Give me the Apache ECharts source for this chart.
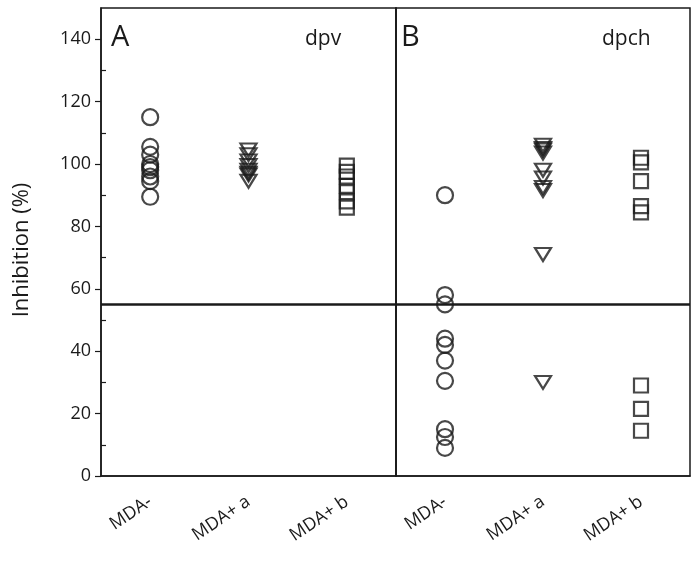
<!DOCTYPE html>
<html>
<head>
<meta charset="utf-8">
<script src="https://cdn.jsdelivr.net/npm/echarts@6/dist/echarts.min.js"></script>
<style>html,body{margin:0;padding:0;background:#fff}#c{width:697px;height:567px}</style>
</head>
<body>
<div id="c"></div>
<script>
var categories = ['MDA-', 'MDA+ a', 'MDA+ b'];
var yTicks = [0, 20, 40, 60, 80, 100, 120, 140];
var yMinorTicks = [10, 30, 50, 70, 90, 110, 130];
var thresholdValue = 55;

// Panel A (dpv)
var dpvMDAminus = [115, 105.5, 103, 100, 99, 98, 96, 94.5, 89.5];
var dpvMDAplusA = [104.5, 103, 101, 99.5, 98, 97, 96.5, 94.5];
var dpvMDAplusB = [99.5, 97.5, 96, 93, 91, 88, 86];

// Panel B (dpch)
var dpchMDAminus = [90, 58, 55, 44, 42, 37, 30.5, 15, 12.5, 9];
var dpchMDAplusA = [106, 105, 104.5, 103.5, 98, 95.5, 92.5, 91.5, 71, 30];
var dpchMDAplusB = [102, 100.5, 94.5, 86.5, 84.5, 29, 21.5, 14.5];

var FONT = '"Open Sans", "Liberation Sans", sans-serif';
var INK = '#1a1a1a';

function pts(cat, vals) { return vals.map(function (v) { return [cat, v]; }); }

function markerSeries(grid, cat, vals, shape) {
  var s = {
    type: 'scatter',
    xAxisIndex: grid,
    yAxisIndex: grid === 0 ? 0 : 2,
    data: pts(cat, vals),
    symbol: shape,
    itemStyle: { color: 'rgba(0,0,0,0)', borderColor: INK, borderWidth: 2.2 },
    emphasis: { disabled: true },
    silent: true,
    z: 3
  };
  if (shape === 'circle') s.symbolSize = 16;
  if (shape === 'triangle') { s.symbolSize = [16, 13]; s.symbolRotate = 180; }
  if (shape === 'rect') s.symbolSize = 14;
  return s;
}

function refLine(grid) {
  return {
    type: 'line', xAxisIndex: grid, yAxisIndex: grid === 0 ? 0 : 2, data: [], silent: true,
    markLine: {
      silent: true, symbol: 'none', label: { show: false },
      lineStyle: { color: INK, width: 2.5, type: 'solid' },
      data: [{ yAxis: thresholdValue }]
    }
  };
}

function xAxis(grid) {
  return {
    type: 'category', gridIndex: grid, data: categories, boundaryGap: true,
    axisLine: { lineStyle: { color: INK, width: 1.5 } },
    axisTick: { alignWithLabel: true, interval: 0, length: 6, lineStyle: { color: INK, width: 1.2 } },
    axisLabel: { rotate: 34, interval: 0, margin: 24, color: INK, fontFamily: FONT, fontSize: 18 },
    splitLine: { show: false }
  };
}

var chart = echarts.init(document.getElementById('c'));
chart.setOption({
  animation: false,
  backgroundColor: '#fff',
  grid: [
    { left: 101, top: 8, width: 295, height: 468, show: true, borderColor: INK, borderWidth: 1.5, backgroundColor: 'transparent' },
    { left: 396, top: 8, width: 294, height: 468, show: true, borderColor: INK, borderWidth: 1.5, backgroundColor: 'transparent' }
  ],
  xAxis: [xAxis(0), xAxis(1)],
  yAxis: [
    {
      type: 'value', gridIndex: 0, min: 0, max: 150,
      axisLine: { show: true, lineStyle: { color: INK, width: 1.5 } },
      axisTick: { show: true, customValues: yTicks, length: 6, lineStyle: { color: INK, width: 1.2 } },
      axisLabel: { customValues: yTicks, margin: 10, color: INK, fontFamily: FONT, fontSize: 18 },
      splitLine: { show: false }
    },
    {
      type: 'value', gridIndex: 0, min: 0, max: 150, position: 'left',
      axisLine: { show: false },
      axisTick: { show: true, inside: true, customValues: yMinorTicks, length: 5, lineStyle: { color: INK, width: 1.2 } },
      axisLabel: { show: false },
      splitLine: { show: false }
    },
    {
      type: 'value', gridIndex: 1, min: 0, max: 150,
      axisLine: { show: true, lineStyle: { color: INK, width: 1.5 } },
      axisTick: { show: false },
      axisLabel: { show: false },
      splitLine: { show: false }
    }
  ],
  graphic: [
    { type: 'text', x: 22, y: 250, rotation: Math.PI / 2, style: { text: 'Inhibition (%)', font: '22px ' + FONT, fill: INK, textAlign: 'center', textVerticalAlign: 'middle' } },
    { type: 'text', x: 111, y: 38, style: { text: 'A', font: '29px ' + FONT, fill: INK, textVerticalAlign: 'middle' } },
    { type: 'text', x: 305, y: 39, style: { text: 'dpv', font: '21px ' + FONT, fill: INK, textVerticalAlign: 'middle' } },
    { type: 'text', x: 401, y: 38, style: { text: 'B', font: '29px ' + FONT, fill: INK, textVerticalAlign: 'middle' } },
    { type: 'text', x: 602, y: 39, style: { text: 'dpch', font: '21px ' + FONT, fill: INK, textVerticalAlign: 'middle' } }
  ],
  series: [
    refLine(0), refLine(1),
    markerSeries(0, categories[0], dpvMDAminus, 'circle'),
    markerSeries(0, categories[1], dpvMDAplusA, 'triangle'),
    markerSeries(0, categories[2], dpvMDAplusB, 'rect'),
    markerSeries(1, categories[0], dpchMDAminus, 'circle'),
    markerSeries(1, categories[1], dpchMDAplusA, 'triangle'),
    markerSeries(1, categories[2], dpchMDAplusB, 'rect')
  ]
});
</script>
</body>
</html>
